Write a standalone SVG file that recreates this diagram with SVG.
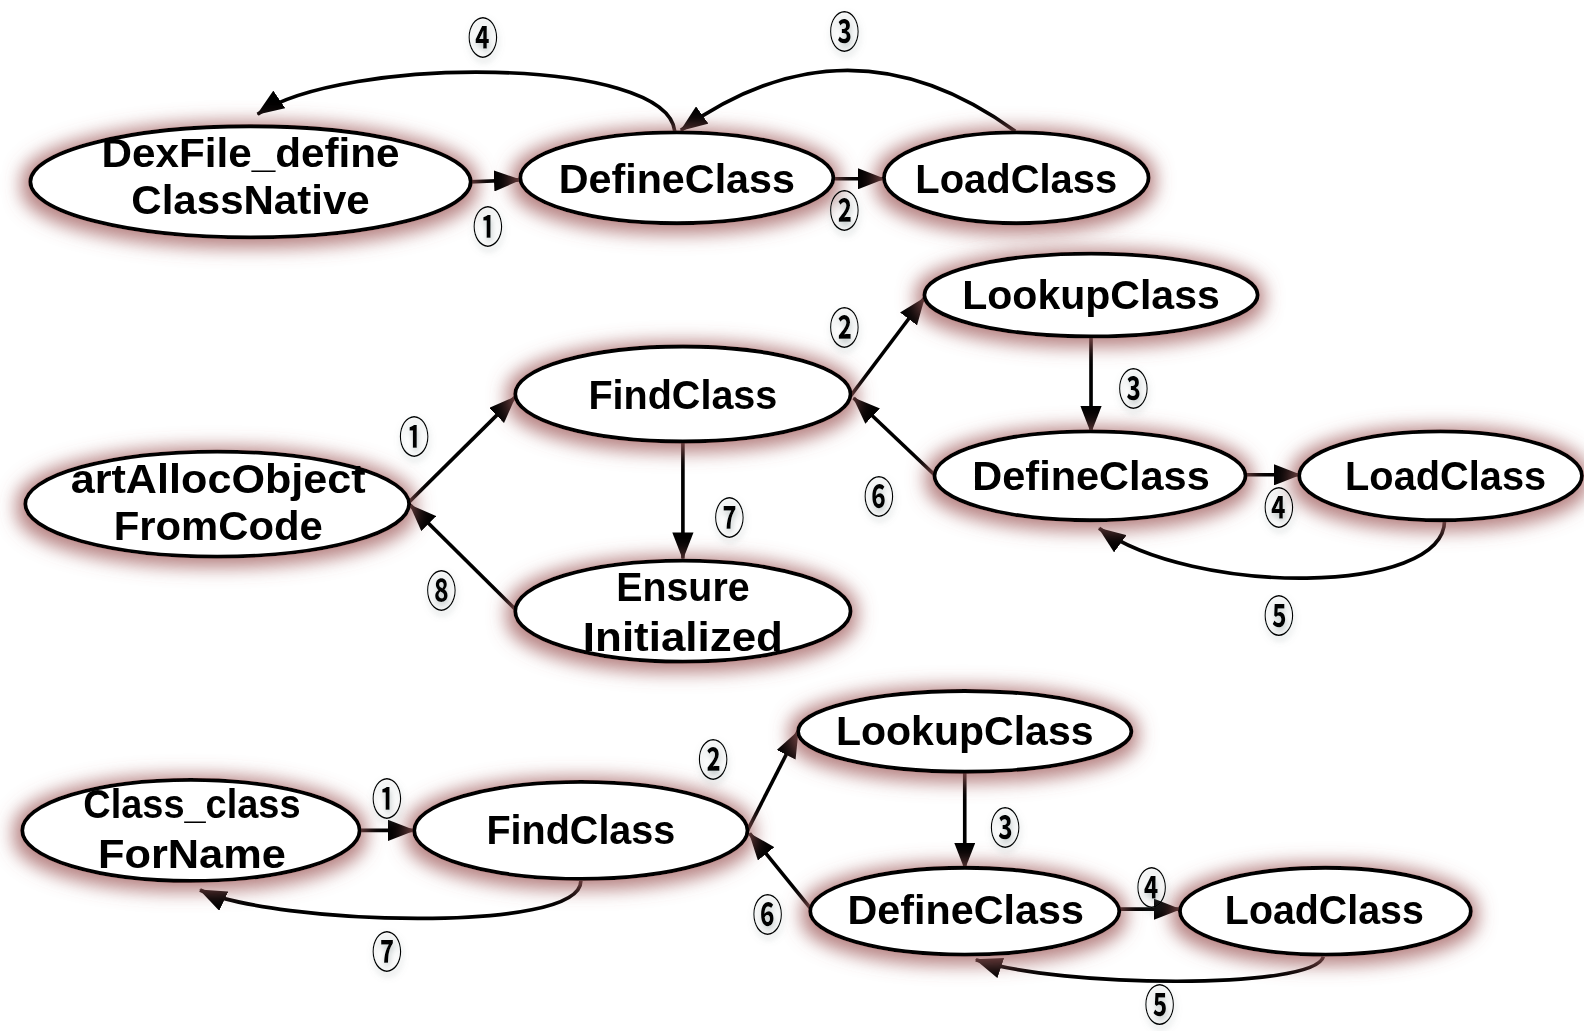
<svg xmlns="http://www.w3.org/2000/svg" width="1584" height="1031" viewBox="0 0 1584 1031">
  <defs>
    <filter id="glow" x="-25%" y="-50%" width="150%" height="200%">
      <feMorphology in="SourceAlpha" operator="dilate" radius="6" result="d"/>
      <feGaussianBlur in="d" stdDeviation="9" result="b"/>
      <feOffset in="b" dx="-1" dy="3" result="o"/>
      <feFlood flood-color="#a05c5c" flood-opacity="0.75"/>
      <feComposite in2="o" operator="in" result="s"/>
      <feMerge><feMergeNode in="s"/><feMergeNode in="SourceGraphic"/></feMerge>
    </filter>
    <filter id="lblShadow" x="-50%" y="-50%" width="200%" height="200%">
      <feGaussianBlur in="SourceAlpha" stdDeviation="3" result="b"/>
      <feOffset in="b" dx="1" dy="4" result="o"/>
      <feFlood flood-color="#7a8a8a" flood-opacity="0.55"/>
      <feComposite in2="o" operator="in" result="s"/>
      <feMerge><feMergeNode in="s"/><feMergeNode in="SourceGraphic"/></feMerge>
    </filter>
    <marker id="arrow" viewBox="0 0 27 21" refX="26" refY="10.5" markerWidth="27" markerHeight="21" markerUnits="userSpaceOnUse" orient="auto">
      <path d="M0,0 L27,10.5 L0,21 Z" fill="#000"/>
    </marker>
    <style>
      .node ellipse { fill: #fff; stroke: #000; stroke-width: 3.8; }
      .node { filter: url(#glow); }
      .node text { font-family: "Liberation Sans", Arial, sans-serif; font-weight: bold; font-size: 41px; fill: #000; text-anchor: middle; }
      #edges path { fill: none; stroke: #000; stroke-width: 3.6; marker-end: url(#arrow); }
      .lbl { font-family: "Noto Sans CJK SC", "DejaVu Sans", sans-serif; font-weight: bold; font-size: 43px; fill: #000; text-anchor: middle; dominant-baseline: central; filter: url(#lblShadow); }
    </style>
  </defs>
  <rect width="1584" height="1031" fill="#fff"/>
  <g transform="scale(1.0102)">
    <!-- connectors -->
    <g id="edges">
      <!-- top chain -->
      <path d="M465,180 L515,178"/>
      <path d="M825,177 L875,177"/>
      <path d="M1005,130 Q840,10 674,129"/>
      <path d="M668,130 C660,55 340,55 255,113"/>
      <!-- middle chain -->
      <path d="M405,497 L510,393"/>
      <path d="M512,605 L406,500"/>
      <path d="M676,437 L676,553"/>
      <path d="M842,392 L915,295"/>
      <path d="M1080,333 L1080,428"/>
      <path d="M925,470 L845,394"/>
      <path d="M1232,470 L1287,470"/>
      <path d="M1430,515 C1430,590 1180,590 1088,523"/>
      <!-- bottom chain -->
      <path d="M355,822 L410,822"/>
      <path d="M575,872 C575,925 270,915 198,881"/>
      <path d="M740,822 L790,724"/>
      <path d="M803,900 L742,825"/>
      <path d="M955,765 L955,860"/>
      <path d="M1108,900 L1168,900"/>
      <path d="M1310,947 C1300,980 1050,978 966,950"/>
    </g>

    <!-- top chain nodes -->
    <g id="dexfile-defineclassnative" class="node">
      <ellipse cx="248" cy="180" rx="218" ry="55"/>
      <text x="248" y="165" textLength="295" lengthAdjust="spacingAndGlyphs">DexFile_define</text>
      <text x="248" y="212" textLength="236" lengthAdjust="spacingAndGlyphs">ClassNative</text>
    </g>
    <g id="defineclass-1" class="node">
      <ellipse cx="670" cy="176" rx="155" ry="45"/>
      <text x="670" y="191" textLength="234" lengthAdjust="spacingAndGlyphs">DefineClass</text>
    </g>
    <g id="loadclass-1" class="node">
      <ellipse cx="1006" cy="176" rx="131" ry="45"/>
      <text x="1006" y="191" textLength="200" lengthAdjust="spacingAndGlyphs">LoadClass</text>
    </g>

    <!-- middle chain nodes -->
    <g id="artallocobjectfromcode" class="node">
      <ellipse cx="215" cy="499" rx="190" ry="52"/>
      <text x="216" y="488" textLength="292" lengthAdjust="spacingAndGlyphs">artAllocObject</text>
      <text x="216" y="535" textLength="207" lengthAdjust="spacingAndGlyphs">FromCode</text>
    </g>
    <g id="findclass-2" class="node">
      <ellipse cx="676" cy="390" rx="166" ry="47"/>
      <text x="676" y="405" textLength="187" lengthAdjust="spacingAndGlyphs">FindClass</text>
    </g>
    <g id="ensureinitialized" class="node">
      <ellipse cx="676" cy="605" rx="166" ry="50"/>
      <text x="676" y="595" textLength="132" lengthAdjust="spacingAndGlyphs">Ensure</text>
      <text x="676" y="644" textLength="198" lengthAdjust="spacingAndGlyphs">Initialized</text>
    </g>
    <g id="lookupclass-2" class="node">
      <ellipse cx="1080" cy="292" rx="165" ry="41"/>
      <text x="1080" y="306" textLength="255" lengthAdjust="spacingAndGlyphs">LookupClass</text>
    </g>
    <g id="defineclass-2" class="node">
      <ellipse cx="1079" cy="471" rx="154" ry="44"/>
      <text x="1080" y="485" textLength="235" lengthAdjust="spacingAndGlyphs">DefineClass</text>
    </g>
    <g id="loadclass-2" class="node">
      <ellipse cx="1426" cy="471" rx="140" ry="44"/>
      <text x="1431" y="485" textLength="199" lengthAdjust="spacingAndGlyphs">LoadClass</text>
    </g>

    <!-- bottom chain nodes -->
    <g id="class-classforname" class="node">
      <ellipse cx="189" cy="822" rx="167" ry="50"/>
      <text x="190" y="810" textLength="215" lengthAdjust="spacingAndGlyphs">Class_class</text>
      <text x="190" y="859" textLength="186" lengthAdjust="spacingAndGlyphs">ForName</text>
    </g>
    <g id="findclass-3" class="node">
      <ellipse cx="575" cy="822" rx="165" ry="48"/>
      <text x="575" y="835" textLength="187" lengthAdjust="spacingAndGlyphs">FindClass</text>
    </g>
    <g id="lookupclass-3" class="node">
      <ellipse cx="955" cy="724" rx="165" ry="40"/>
      <text x="955" y="737" textLength="255" lengthAdjust="spacingAndGlyphs">LookupClass</text>
    </g>
    <g id="defineclass-3" class="node">
      <ellipse cx="955" cy="902" rx="153" ry="43"/>
      <text x="956" y="915" textLength="234" lengthAdjust="spacingAndGlyphs">DefineClass</text>
    </g>
    <g id="loadclass-3" class="node">
      <ellipse cx="1312" cy="902" rx="144" ry="43"/>
      <text x="1311" y="915" textLength="197" lengthAdjust="spacingAndGlyphs">LoadClass</text>
    </g>

    <!-- step numbers -->
    <g id="labels">
      <text class="lbl" x="478" y="35" textLength="30" lengthAdjust="spacingAndGlyphs">④</text>
      <text class="lbl" x="836" y="29" textLength="30" lengthAdjust="spacingAndGlyphs">③</text>
      <text class="lbl" x="483" y="222" textLength="30" lengthAdjust="spacingAndGlyphs">①</text>
      <text class="lbl" x="836" y="206" textLength="30" lengthAdjust="spacingAndGlyphs">②</text>

      <text class="lbl" x="410" y="430" textLength="30" lengthAdjust="spacingAndGlyphs">①</text>
      <text class="lbl" x="836" y="322" textLength="30" lengthAdjust="spacingAndGlyphs">②</text>
      <text class="lbl" x="1122" y="383" textLength="30" lengthAdjust="spacingAndGlyphs">③</text>
      <text class="lbl" x="1266" y="500" textLength="30" lengthAdjust="spacingAndGlyphs">④</text>
      <text class="lbl" x="1266" y="607" textLength="30" lengthAdjust="spacingAndGlyphs">⑤</text>
      <text class="lbl" x="870" y="490" textLength="30" lengthAdjust="spacingAndGlyphs">⑥</text>
      <text class="lbl" x="722" y="510" textLength="30" lengthAdjust="spacingAndGlyphs">⑦</text>
      <text class="lbl" x="437" y="583" textLength="30" lengthAdjust="spacingAndGlyphs">⑧</text>

      <text class="lbl" x="383" y="788" textLength="30" lengthAdjust="spacingAndGlyphs">①</text>
      <text class="lbl" x="706" y="750" textLength="30" lengthAdjust="spacingAndGlyphs">②</text>
      <text class="lbl" x="995" y="817" textLength="30" lengthAdjust="spacingAndGlyphs">③</text>
      <text class="lbl" x="1140" y="877" textLength="30" lengthAdjust="spacingAndGlyphs">④</text>
      <text class="lbl" x="1148" y="992" textLength="30" lengthAdjust="spacingAndGlyphs">⑤</text>
      <text class="lbl" x="760" y="903" textLength="30" lengthAdjust="spacingAndGlyphs">⑥</text>
      <text class="lbl" x="383" y="940" textLength="30" lengthAdjust="spacingAndGlyphs">⑦</text>
    </g>
  </g>
</svg>
